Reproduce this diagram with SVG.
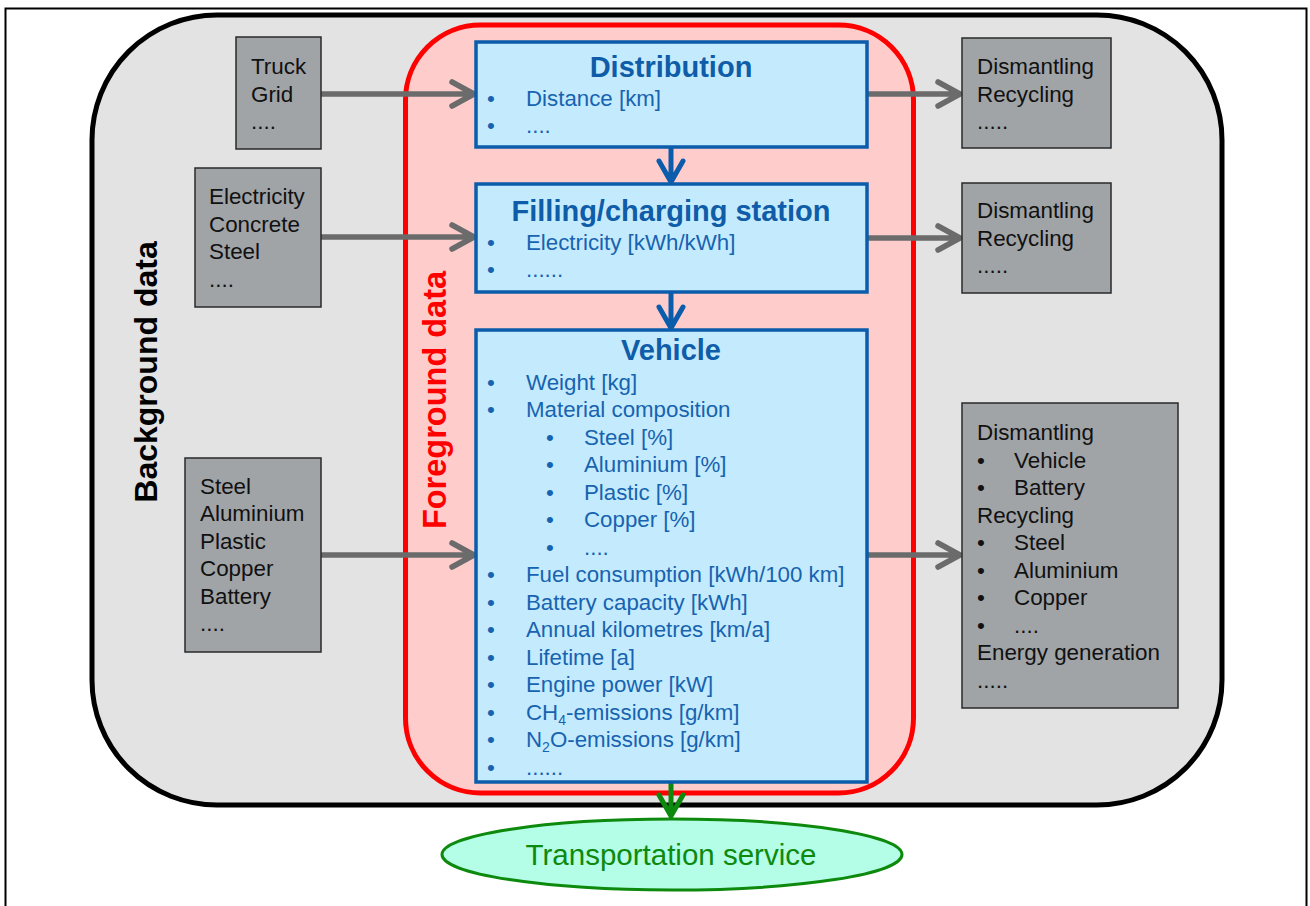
<svg xmlns="http://www.w3.org/2000/svg" width="1310" height="906" viewBox="0 0 1310 906">
<defs>
<style>
text{font-family:"Liberation Sans",Arial,sans-serif}
.g{fill:#a0a4a7;stroke:#2a2a2a;stroke-width:1.5}
.gt{font-size:22.4px;fill:#111}
.b{fill:#c4ebfd;stroke:#0b5cab;stroke-width:3.5}
.bh{font-size:29px;font-weight:bold;fill:#0f5ca8;text-anchor:middle}
.bt{font-size:22.3px;fill:#1763b0}
.ga{stroke:#6b6b6b;stroke-width:5.5;fill:none;stroke-linecap:round;stroke-linejoin:round}
.ba{stroke:#0b5cab;stroke-width:5;fill:none;stroke-linecap:round;stroke-linejoin:round}
.gr{stroke:#0d8a0d;stroke-width:5;fill:none;stroke-linecap:round;stroke-linejoin:round}
</style>
</defs>
<rect x="0" y="0" width="1310" height="906" fill="#ffffff"/>
<rect x="5.5" y="8.5" width="1301" height="910" fill="none" stroke="#000" stroke-width="2"/>
<g id="background">
<rect x="92" y="15" width="1130" height="790" rx="125" ry="125" fill="#e3e3e3" stroke="#000" stroke-width="5"/>
<text transform="translate(157,372) rotate(-90)" text-anchor="middle" font-size="32" font-weight="bold" fill="#000">Background data</text>
</g>
<g id="foreground">
<rect x="405.5" y="25" width="508" height="768" rx="75" ry="75" fill="#ffcccc" stroke="#ff0000" stroke-width="5"/>
<text transform="translate(446,400) rotate(-90)" text-anchor="middle" font-size="32.5" font-weight="bold" fill="#ff0000">Foreground data</text>
</g>
<g id="connectors">
<path class="ga" d="M321 94H474M452 82L474 94L452 106"/>
<path class="ga" d="M321 237H474M452 225L474 237L452 249"/>
<path class="ga" d="M321 555H474M452 543L474 555L452 567"/>
<path class="ga" d="M867 94H960M938 82L960 94L938 106"/>
<path class="ga" d="M867 238H960M938 226L960 238L938 250"/>
<path class="ga" d="M867 555H960M938 543L960 555L938 567"/>
<path class="ba" d="M671 148V182M659 161L671 182L683 161"/>
<path class="ba" d="M671 293V328M659 307L671 328L683 307"/>
<path class="gr" d="M671 784V816M659 795L671 816L683 795"/>
</g>
<g id="truck">
<rect class="g" x="236" y="37" width="85" height="112"/>
<text class="gt" x="251" y="74">Truck</text>
<text class="gt" x="251" y="102">Grid</text>
<text class="gt" x="251" y="129">....</text>
</g>
<g id="electricity">
<rect class="g" x="195" y="168" width="126" height="139"/>
<text class="gt" x="209" y="204">Electricity</text>
<text class="gt" x="209" y="232">Concrete</text>
<text class="gt" x="209" y="259">Steel</text>
<text class="gt" x="209" y="287">....</text>
</g>
<g id="materials">
<rect class="g" x="185" y="458" width="136" height="194"/>
<text class="gt" x="200" y="494">Steel</text>
<text class="gt" x="200" y="521">Aluminium</text>
<text class="gt" x="200" y="549">Plastic</text>
<text class="gt" x="200" y="576">Copper</text>
<text class="gt" x="200" y="604">Battery</text>
<text class="gt" x="200" y="631">....</text>
</g>
<g id="distribution">
<rect class="b" x="476" y="42" width="391" height="105"/>
<text class="bh" x="671" y="77">Distribution</text>
<text class="bt" x="487" y="106">•</text><text class="bt" x="526" y="106">Distance [km]</text>
<text class="bt" x="487" y="133">•</text><text class="bt" x="526" y="133">....</text>
</g>
<g id="filling">
<rect class="b" x="476" y="184" width="391" height="108"/>
<text class="bh" x="671" y="221">Filling/charging station</text>
<text class="bt" x="487" y="250">•</text><text class="bt" x="526" y="250">Electricity [kWh/kWh]</text>
<text class="bt" x="487" y="277">•</text><text class="bt" x="526" y="277">......</text>
</g>
<g id="vehicle">
<rect class="b" x="476" y="330" width="391" height="452"/>
<text class="bh" x="671" y="360">Vehicle</text>
<text class="bt" x="487" y="390">•</text><text class="bt" x="526" y="390">Weight [kg]</text>
<text class="bt" x="487" y="417">•</text><text class="bt" x="526" y="417">Material composition</text>
<text class="bt" x="546" y="445">•</text><text class="bt" x="584" y="445">Steel [%]</text>
<text class="bt" x="546" y="472">•</text><text class="bt" x="584" y="472">Aluminium [%]</text>
<text class="bt" x="546" y="500">•</text><text class="bt" x="584" y="500">Plastic [%]</text>
<text class="bt" x="546" y="527">•</text><text class="bt" x="584" y="527">Copper [%]</text>
<text class="bt" x="546" y="555">•</text><text class="bt" x="584" y="555">....</text>
<text class="bt" x="487" y="582">•</text><text class="bt" x="526" y="582">Fuel consumption [kWh/100 km]</text>
<text class="bt" x="487" y="610">•</text><text class="bt" x="526" y="610">Battery capacity [kWh]</text>
<text class="bt" x="487" y="637">•</text><text class="bt" x="526" y="637">Annual kilometres [km/a]</text>
<text class="bt" x="487" y="665">•</text><text class="bt" x="526" y="665">Lifetime [a]</text>
<text class="bt" x="487" y="692">•</text><text class="bt" x="526" y="692">Engine power [kW]</text>
<text class="bt" x="487" y="720">•</text><text class="bt" x="526" y="720">CH<tspan font-size="14" dy="5">4</tspan><tspan dy="-5">-emissions [g/km]</tspan></text>
<text class="bt" x="487" y="747">•</text><text class="bt" x="526" y="747">N<tspan font-size="14" dy="5">2</tspan><tspan dy="-5">O-emissions [g/km]</tspan></text>
<text class="bt" x="487" y="775">•</text><text class="bt" x="526" y="775">......</text>
</g>
<g id="eol1">
<rect class="g" x="962" y="38" width="149" height="110"/>
<text class="gt" x="977" y="74">Dismantling</text>
<text class="gt" x="977" y="102">Recycling</text>
<text class="gt" x="977" y="129">.....</text>
</g>
<g id="eol2">
<rect class="g" x="962" y="183" width="149" height="110"/>
<text class="gt" x="977" y="218">Dismantling</text>
<text class="gt" x="977" y="246">Recycling</text>
<text class="gt" x="977" y="273">.....</text>
</g>
<g id="eol3">
<rect class="g" x="962" y="403" width="216" height="305"/>
<text class="gt" x="977" y="440">Dismantling</text>
<text class="gt" x="977" y="468">•</text><text class="gt" x="1014" y="468">Vehicle</text>
<text class="gt" x="977" y="495">•</text><text class="gt" x="1014" y="495">Battery</text>
<text class="gt" x="977" y="523">Recycling</text>
<text class="gt" x="977" y="550">•</text><text class="gt" x="1014" y="550">Steel</text>
<text class="gt" x="977" y="578">•</text><text class="gt" x="1014" y="578">Aluminium</text>
<text class="gt" x="977" y="605">•</text><text class="gt" x="1014" y="605">Copper</text>
<text class="gt" x="977" y="633">•</text><text class="gt" x="1014" y="633">....</text>
<text class="gt" x="977" y="660">Energy generation</text>
<text class="gt" x="977" y="688">.....</text>
</g>
<g id="service">
<ellipse cx="672" cy="854.5" rx="230" ry="35.5" fill="#b4fde6" stroke="#0d8a0d" stroke-width="3"/>
<text x="671" y="865" text-anchor="middle" font-size="29.5" fill="#0d8a0d">Transportation service</text>
</g>
</svg>
